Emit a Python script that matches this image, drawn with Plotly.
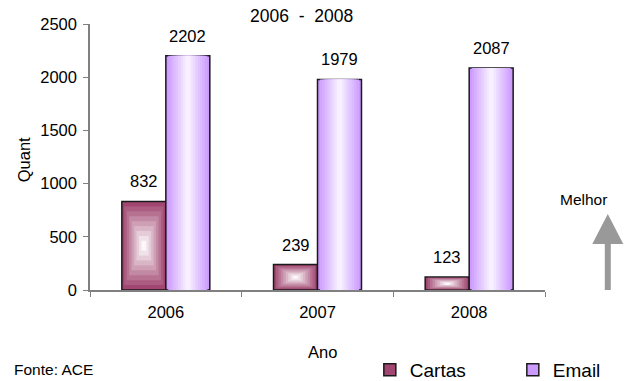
import plotly.graph_objects as go

# Data
years = ["2006", "2007", "2008"]
cartas = [832, 239, 123]
email = [2202, 1979, 2087]
series_names = ["Cartas", "Email"]
y_ticks = [0, 500, 1000, 1500, 2000, 2500]

FONT = "Liberation Sans, Arial, sans-serif"
BAR_W = 0.29          # width of one bar in category units
LAYERS = 9            # number of layers used for the gradient fill


def mix(c1, c2, t):
    return "rgb(%d,%d,%d)" % tuple(round(a + (b - a) * t) for a, b in zip(c1, c2))


fig = go.Figure()

# Cartas: concentric (rectangular) gradient, dark rim to white centre
c_out, c_in = (160, 70, 112), (252, 248, 250)
for k in range(LAYERS):
    t = k / LAYERS
    fig.add_trace(go.Bar(
        x=years,
        y=[v * (1 - t) for v in cartas],
        base=[v * t / 2 for v in cartas],
        width=BAR_W * (1 - t),
        offset=-BAR_W + BAR_W * t / 2,
        marker=dict(color=mix(c_out, c_in, k / (LAYERS - 1)),
                    line=dict(color="#1a1a1a" if k == 0 else "rgba(0,0,0,0)",
                              width=1.5 if k == 0 else 0)),
        name=series_names[0],
        showlegend=(k == 0),
        legendgroup="c",
        hoverinfo="skip" if k else None,
    ))

# Email: horizontal gradient, lavender edges to pale centre
e_out, e_in = (204, 153, 255), (246, 240, 255)
for k in range(LAYERS):
    t = k / LAYERS
    fig.add_trace(go.Bar(
        x=years,
        y=email,
        width=BAR_W * (1 - t),
        offset=BAR_W * t / 2,
        marker=dict(color=mix(e_out, e_in, k / (LAYERS - 1)),
                    line=dict(color="#1a1a1a" if k == 0 else "rgba(0,0,0,0)",
                              width=1.5 if k == 0 else 0)),
        name=series_names[1],
        showlegend=(k == 0),
        legendgroup="e",
        hoverinfo="skip" if k else None,
    ))

annotations = []
# Value labels above each bar (x given as category index)
for i, v in enumerate(cartas):
    annotations.append(dict(x=i, y=v, text=str(v), showarrow=False, xref="x", yref="y",
                            xshift=-22, yshift=9, yanchor="bottom",
                            font=dict(family=FONT, size=16.5, color="#000")))
for i, v in enumerate(email):
    annotations.append(dict(x=i, y=v, text=str(v), showarrow=False, xref="x", yref="y",
                            xshift=22, yshift=9, yanchor="bottom",
                            font=dict(family=FONT, size=16.5, color="#000")))

annotations += [
    dict(text="2006\u00a0\u00a0-\u00a0\u00a02008", x=0.464, y=1.03, xref="paper", yref="paper",
         showarrow=False, yanchor="middle", font=dict(family=FONT, size=17.5, color="#000")),
    dict(text="Quant", x=-0.17, y=0.49, xref="paper", yref="paper", textangle=-90,
         showarrow=False, font=dict(family=FONT, size=16.5, color="#000")),
    dict(text="Ano", x=0.51, y=-0.233, xref="paper", yref="paper", yanchor="middle",
         showarrow=False, font=dict(family=FONT, size=16.5, color="#000")),
    dict(text="Fonte: ACE", x=-0.171, y=-0.30, xref="paper", yref="paper",
         xanchor="left", yanchor="middle",
         showarrow=False, font=dict(family=FONT, size=15.5, color="#000")),
    dict(text="Melhor", x=1.14, y=0.34, xref="paper", yref="paper", yanchor="middle",
         showarrow=False, font=dict(family=FONT, size=15.5, color="#000")),
]

# Upward "better" arrow to the right of the plot
ax0, ay0 = 1.138, 0.0
shaft_hw, head_hw = 3 / 455, 15.5 / 455
head_base, tip = 0.173, 0.286
arrow_path = (f"M{ax0 - shaft_hw},{ay0} L{ax0 - shaft_hw},{head_base} "
              f"L{ax0 - head_hw},{head_base} L{ax0},{tip} L{ax0 + head_hw},{head_base} "
              f"L{ax0 + shaft_hw},{head_base} L{ax0 + shaft_hw},{ay0} Z")

fig.update_layout(
    width=637, height=381,
    margin=dict(l=90, r=92, t=24, b=91, autoexpand=False),
    paper_bgcolor="white", plot_bgcolor="white",
    barmode="overlay",
    showlegend=True,
    legend=dict(orientation="h", x=0.615, y=-0.30, xanchor="left", yanchor="middle",
                entrywidth=98, entrywidthmode="pixels",
                font=dict(family=FONT, size=19, color="#000"),
                traceorder="normal", bgcolor="rgba(0,0,0,0)"),
    annotations=annotations,
    shapes=[dict(type="path", path=arrow_path, xref="paper", yref="paper",
                 fillcolor="#999999", line=dict(width=0))],
    font=dict(family=FONT, size=15, color="#000"),
)
fig.update_xaxes(type="category", showline=True, linecolor="#808080", linewidth=1.5,
                 ticks="outside", ticklen=5, tickcolor="#808080", tickson="boundaries",
                 ticklabelstandoff=6, showgrid=False, zeroline=False,
                 tickfont=dict(family=FONT, size=16.5, color="#000"),
                 range=[-0.5, 2.5])
fig.update_yaxes(range=[0, 2500], tickvals=y_ticks, showline=True, linecolor="#808080",
                 linewidth=1.5, ticks="outside", ticklen=5, tickcolor="#808080",
                 showgrid=False, zeroline=False, ticklabelstandoff=3,
                 tickfont=dict(family=FONT, size=16.5, color="#000"))

fig.write_html("out.html")
